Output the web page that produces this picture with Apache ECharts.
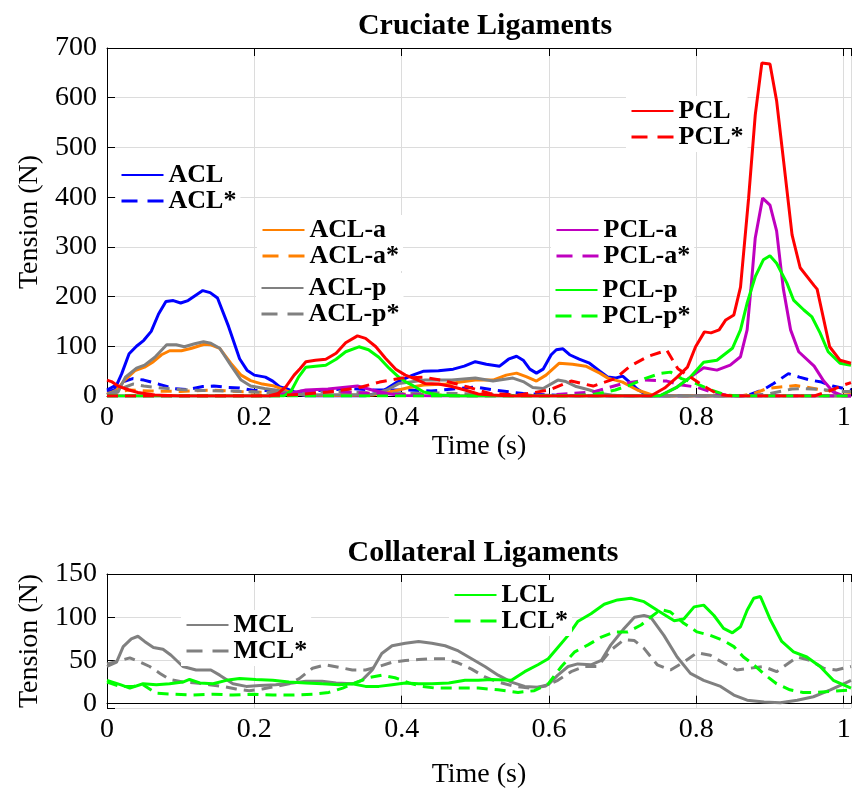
<!DOCTYPE html>
<html>
<head>
<meta charset="utf-8">
<title>Ligament tension</title>
<script src="https://cdn.jsdelivr.net/npm/echarts@6/dist/echarts.min.js"></script>
</head>
<body style="margin:0;padding:0;background:#fff">
<div id="chart" style="width:854px;height:793px"></div>
<script type="text/javascript">
// values: [time (s), tension (N)]
var acl = [[0,8],[0.01,12],[0.02,45],[0.03,85],[0.04,100],[0.05,112],[0.06,130],[0.07,165],[0.08,190],[0.09,192],[0.10,187],[0.11,192],[0.12,202],[0.13,212],[0.14,208],[0.15,197],[0.165,140],[0.18,75],[0.19,52],[0.20,42],[0.215,38],[0.225,30],[0.235,18],[0.245,14],[0.255,8],[0.27,0],[0.35,0],[0.365,5],[0.38,15],[0.395,29],[0.415,42],[0.43,50],[0.45,51],[0.47,54],[0.485,60],[0.50,69],[0.515,64],[0.533,60],[0.545,74],[0.556,80],[0.565,72],[0.574,54],[0.583,46],[0.592,54],[0.603,83],[0.61,93],[0.619,95],[0.628,83],[0.641,74],[0.655,66],[0.669,50],[0.68,38],[0.69,36],[0.70,40],[0.711,26],[0.72,14],[0.73,4],[0.74,0],[1.01,0]];
var aclStar = [[0,12],[0.02,28],[0.035,35],[0.05,32],[0.07,24],[0.09,15],[0.11,13],[0.13,19],[0.145,20],[0.165,17],[0.18,16],[0.20,11],[0.22,11],[0.235,12],[0.25,9],[0.27,10],[0.30,12],[0.33,15],[0.36,12],[0.39,12],[0.41,12],[0.44,10],[0.47,14],[0.50,18],[0.53,11],[0.565,5],[0.60,2],[0.64,0],[0.86,0],[0.875,4],[0.89,12],[0.905,25],[0.925,45],[0.94,38],[0.955,32],[0.97,28],[0.985,20],[1.01,12]];
var aclA = [[0,3],[0.013,12],[0.024,32],[0.038,51],[0.051,58],[0.063,69],[0.074,83],[0.085,91],[0.101,91],[0.115,96],[0.132,104],[0.141,103],[0.153,96],[0.168,66],[0.182,42],[0.195,31],[0.211,24],[0.227,20],[0.24,13],[0.25,6],[0.27,2],[0.30,1],[0.36,2],[0.39,10],[0.41,17],[0.43,22],[0.46,24],[0.50,32],[0.524,32],[0.542,42],[0.556,46],[0.569,39],[0.583,30],[0.596,42],[0.614,66],[0.632,64],[0.65,60],[0.669,46],[0.68,36],[0.70,28],[0.72,12],[0.74,2],[0.76,0],[1.01,0]];
var aclAStar = [[0,5],[0.03,12],[0.06,10],[0.10,9],[0.14,12],[0.18,9],[0.22,7],[0.26,5],[0.30,8],[0.34,6],[0.40,4],[0.45,2],[0.50,1],[0.60,0],[0.86,0],[0.878,5],[0.896,15],[0.914,18],[0.935,21],[0.95,18],[0.97,12],[1.00,8],[1.01,7]];
var aclP = [[0,2],[0.015,8],[0.025,38],[0.04,56],[0.051,62],[0.065,78],[0.081,103],[0.094,103],[0.105,99],[0.119,105],[0.131,109],[0.141,106],[0.153,96],[0.168,62],[0.182,32],[0.195,20],[0.214,15],[0.232,11],[0.25,5],[0.27,2],[0.36,3],[0.38,12],[0.396,25],[0.432,32],[0.468,32],[0.50,36],[0.524,30],[0.551,36],[0.565,29],[0.578,17],[0.592,15],[0.612,32],[0.623,29],[0.637,19],[0.655,12],[0.669,5],[0.685,2],[0.70,0],[1.01,0]];
var aclPStar = [[0,3],[0.02,15],[0.035,24],[0.05,20],[0.075,16],[0.10,13],[0.13,11],[0.17,10],[0.20,8],[0.24,6],[0.28,8],[0.32,9],[0.36,6],[0.40,5],[0.45,6],[0.50,4],[0.55,2],[0.60,1],[0.65,0],[0.87,0],[0.90,5],[0.93,14],[0.946,15],[0.97,13],[1.00,9],[1.01,9]];
var pcl = [[0,32],[0.006,29],[0.015,20],[0.03,12],[0.042,7],[0.065,2],[0.10,0],[0.22,0],[0.232,5],[0.243,19],[0.254,42],[0.262,55],[0.27,69],[0.283,72],[0.297,74],[0.311,86],[0.324,107],[0.34,121],[0.351,116],[0.365,99],[0.378,76],[0.392,54],[0.405,42],[0.419,34],[0.432,25],[0.45,24],[0.468,19],[0.486,12],[0.504,4],[0.522,2],[0.55,0],[0.738,0],[0.757,16],[0.774,38],[0.788,58],[0.799,99],[0.811,129],[0.82,127],[0.831,133],[0.84,153],[0.851,163],[0.86,219],[0.871,398],[0.88,565],[0.889,670],[0.90,668],[0.909,594],[0.918,479],[0.93,324],[0.941,258],[0.96,222],[0.964,215],[0.981,99],[0.995,72],[1.01,66]];
var pclStar = [[0,0],[0.20,0],[0.26,3],[0.30,8],[0.34,16],[0.37,28],[0.40,36],[0.43,38],[0.46,30],[0.49,18],[0.52,5],[0.56,2],[0.60,12],[0.63,30],[0.66,20],[0.69,35],[0.71,60],[0.735,80],[0.76,92],[0.775,55],[0.79,40],[0.81,20],[0.83,3],[0.85,0],[0.96,0],[0.98,10],[1.00,22],[1.01,27]];
var pclA = [[0,0],[0.22,0],[0.25,6],[0.27,12],[0.30,14],[0.34,20],[0.36,12],[0.38,5],[0.40,1],[0.45,0],[0.75,0],[0.774,18],[0.792,38],[0.81,57],[0.828,52],[0.846,62],[0.86,79],[0.869,133],[0.875,230],[0.88,318],[0.89,398],[0.90,384],[0.909,332],[0.918,217],[0.928,133],[0.939,89],[0.96,60],[0.973,30],[0.986,8],[1.00,0],[1.01,0]];
var pclAStar = [[0,0],[0.24,0],[0.27,8],[0.30,10],[0.35,6],[0.40,3],[0.45,1],[0.50,0],[0.60,2],[0.66,8],[0.70,25],[0.73,32],[0.76,30],[0.78,22],[0.80,18],[0.82,8],[0.84,2],[0.86,0],[1.01,0]];
var pclP = [[0,0],[0.24,0],[0.25,10],[0.26,38],[0.27,58],[0.283,60],[0.297,62],[0.311,74],[0.324,89],[0.342,99],[0.355,93],[0.369,78],[0.383,56],[0.396,38],[0.405,29],[0.414,22],[0.43,8],[0.45,2],[0.48,0],[0.75,0],[0.774,18],[0.792,38],[0.81,68],[0.828,72],[0.849,96],[0.86,133],[0.869,187],[0.88,240],[0.891,274],[0.90,282],[0.909,267],[0.923,227],[0.932,193],[0.946,173],[0.957,159],[0.968,127],[0.979,89],[0.995,66],[1.01,62]];
var pclPStar = [[0,0],[0.62,0],[0.66,3],[0.69,12],[0.71,22],[0.73,35],[0.75,45],[0.765,48],[0.78,35],[0.80,25],[0.82,12],[0.84,2],[0.86,0],[1.01,0]];

var mcl = [[0,43],[0.013,48],[0.022,66],[0.033,75],[0.042,78],[0.051,72],[0.063,65],[0.076,63],[0.087,56],[0.103,43],[0.121,39],[0.141,39],[0.153,33],[0.171,23],[0.189,20],[0.207,21],[0.229,22],[0.252,24],[0.27,26],[0.292,26],[0.311,24],[0.333,23],[0.346,27],[0.36,39],[0.373,58],[0.387,67],[0.405,70],[0.423,72],[0.441,70],[0.459,67],[0.477,61],[0.495,52],[0.513,43],[0.531,33],[0.549,25],[0.567,20],[0.585,19],[0.599,22],[0.612,33],[0.626,43],[0.639,46],[0.657,45],[0.671,50],[0.684,68],[0.702,87],[0.716,100],[0.729,102],[0.738,100],[0.756,79],[0.774,54],[0.792,35],[0.81,27],[0.833,20],[0.851,10],[0.869,4],[0.892,2],[0.914,1],[0.937,4],[0.959,8],[0.982,16],[1.00,23],[1.01,27]];
var mclStar = [[0,46],[0.018,50],[0.031,53],[0.045,48],[0.058,43],[0.072,35],[0.085,28],[0.103,25],[0.121,24],[0.139,22],[0.157,20],[0.175,17],[0.193,15],[0.211,17],[0.229,20],[0.247,23],[0.261,29],[0.279,41],[0.297,45],[0.315,42],[0.333,39],[0.351,39],[0.369,43],[0.387,48],[0.405,50],[0.423,51],[0.441,52],[0.459,52],[0.477,47],[0.495,40],[0.513,31],[0.531,25],[0.554,20],[0.576,18],[0.594,20],[0.612,27],[0.63,37],[0.648,43],[0.666,43],[0.684,62],[0.702,74],[0.716,73],[0.729,64],[0.747,45],[0.765,39],[0.783,48],[0.801,59],[0.819,56],[0.837,47],[0.855,39],[0.873,41],[0.891,43],[0.909,37],[0.937,54],[0.955,50],[0.973,41],[0.99,39],[1.01,43]];
var lcl = [[0,27],[0.018,22],[0.031,18],[0.049,23],[0.067,22],[0.085,23],[0.103,25],[0.112,28],[0.126,24],[0.144,23],[0.162,27],[0.18,29],[0.202,28],[0.225,27],[0.247,25],[0.27,24],[0.292,23],[0.315,22],[0.333,23],[0.351,20],[0.369,20],[0.387,22],[0.405,24],[0.423,23],[0.441,23],[0.464,24],[0.486,27],[0.504,27],[0.522,28],[0.549,27],[0.567,37],[0.585,45],[0.599,52],[0.612,65],[0.626,79],[0.639,95],[0.657,104],[0.675,115],[0.693,120],[0.711,122],[0.729,118],[0.747,108],[0.77,96],[0.783,98],[0.797,112],[0.81,114],[0.824,102],[0.837,87],[0.849,82],[0.86,89],[0.869,108],[0.878,122],[0.887,124],[0.90,98],[0.916,72],[0.932,60],[0.95,54],[0.968,43],[0.986,27],[1.01,18]];
var lclStar = [[0,25],[0.018,20],[0.036,20],[0.049,22],[0.067,12],[0.09,11],[0.117,10],[0.144,11],[0.171,10],[0.198,11],[0.225,10],[0.252,10],[0.279,11],[0.301,13],[0.32,18],[0.337,24],[0.355,30],[0.373,33],[0.391,30],[0.41,24],[0.428,20],[0.446,18],[0.468,18],[0.504,18],[0.531,16],[0.558,13],[0.58,15],[0.599,23],[0.617,43],[0.635,60],[0.653,68],[0.671,77],[0.689,83],[0.707,83],[0.725,91],[0.738,100],[0.752,109],[0.765,106],[0.783,93],[0.801,83],[0.819,79],[0.837,73],[0.851,66],[0.864,54],[0.878,45],[0.891,35],[0.909,23],[0.927,16],[0.945,13],[0.963,13],[0.981,14],[1.01,16]];

var FONT = 'Liberation Serif';
var BLUE = '#0000ff', ORANGE = '#ff8000', GRAY = '#808080', RED = '#ff0000', MAGENTA = '#bf00bf', GREEN = '#00ff00';
var DASH = [11, 7];

var topSeries = [
  ['ACL', acl, BLUE], ['ACL*', aclStar, BLUE],
  ['ACL-a', aclA, ORANGE], ['ACL-a*', aclAStar, ORANGE],
  ['ACL-p', aclP, GRAY], ['ACL-p*', aclPStar, GRAY],
  ['PCL-a', pclA, MAGENTA], ['PCL-a*', pclAStar, MAGENTA],
  ['PCL-p', pclP, GREEN], ['PCL-p*', pclPStar, GREEN],
  ['PCL', pcl, RED], ['PCL*', pclStar, RED]
];
var bottomSeries = [
  ['MCL', mcl, GRAY], ['MCL*', mclStar, GRAY],
  ['LCL', lcl, GREEN], ['LCL*', lclStar, GREEN]
];

function makeSeries(s, gi) {
  var dashed = s[0].slice(-1) === '*';
  return {
    name: s[0], type: 'line', data: s[1],
    xAxisIndex: gi * 2, yAxisIndex: gi,
    symbol: 'none', showSymbol: false, silent: true,
    color: s[2],
    lineStyle: { color: s[2], width: 3, type: dashed ? DASH : 'solid' }
  };
}

function makeLegend(names, left, top) {
  return {
    left: left, top: top, orient: 'vertical',
    backgroundColor: '#ffffff', padding: [2, 4, 2, 4],
    itemWidth: 42, itemHeight: 14, itemGap: 0,
    selectedMode: false,
    // hide the marker circle, keep only the line
    itemStyle: { opacity: 0, borderWidth: 0 },
    textStyle: { fontFamily: FONT, fontSize: 26, fontWeight: 'bold', color: '#000', lineHeight: 25 },
    data: names.map(function (n) {
      var d = { name: n };
      if (n.slice(-1) === '*') d.lineStyle = { type: [16, 10], width: 3 };
      return d;
    })
  };
}

function xLabel(v) {
  return Math.abs(v * 5 - Math.round(v * 5)) < 1e-6 ? String(+v.toFixed(1)) : '';
}

function xAxes(gi, nameGap) {
  var common = {
    type: 'value', gridIndex: gi, min: 0, max: 1.01, interval: 0.2,
    axisLine: { show: true, lineStyle: { color: '#000', width: 1 } },
    axisTick: { show: true, inside: true, length: 8, lineStyle: { color: '#000' } }
  };
  var bottom = Object.assign({}, common, {
    position: 'bottom',
    name: 'Time (s)', nameLocation: 'middle', nameGap: nameGap,
    nameTextStyle: { fontFamily: FONT, fontSize: 28, color: '#000' },
    axisLabel: { fontFamily: FONT, fontSize: 28, color: '#000', margin: 8, formatter: xLabel },
    splitLine: { show: true, lineStyle: { color: '#dcdcdc', width: 1 } }
  });
  var top = Object.assign({}, common, {
    position: 'top', axisLabel: { show: false }, splitLine: { show: false }
  });
  return [bottom, top];
}

function yAxis(gi, min, max, extra) {
  return Object.assign({
    type: 'value', gridIndex: gi, min: min, max: max,
    name: 'Tension (N)', nameLocation: 'middle', nameGap: 60,
    nameTextStyle: { fontFamily: FONT, fontSize: 28, color: '#000' },
    axisLine: { show: true, lineStyle: { color: '#000', width: 1 } },
    axisTick: { show: true, inside: true, length: 8, lineStyle: { color: '#000' } },
    axisLabel: { fontFamily: FONT, fontSize: 28, color: '#000', margin: 10 },
    splitLine: { show: true, lineStyle: { color: '#dcdcdc', width: 1 } }
  }, extra);
}

var chart = echarts.init(document.getElementById('chart'));
chart.setOption({
  animation: false,
  backgroundColor: '#ffffff',
  title: [
    { text: 'Cruciate Ligaments', left: 480, top: 6, textAlign: 'center',
      textStyle: { fontFamily: FONT, fontSize: 30, fontWeight: 'bold', color: '#000' } },
    { text: 'Collateral Ligaments', left: 478, top: 533, textAlign: 'center',
      textStyle: { fontFamily: FONT, fontSize: 30, fontWeight: 'bold', color: '#000' } }
  ],
  grid: [
    { left: 107, top: 48, width: 747, height: 348 },
    { left: 107, top: 574, width: 747, height: 134 }
  ],
  xAxis: xAxes(0, 35).concat(xAxes(1, 53)),
  yAxis: [
    yAxis(0, 0, 700, { interval: 100 }),
    yAxis(1, -5, 150, { splitNumber: 3, axisLabel: { fontFamily: FONT, fontSize: 28, color: '#000', margin: 10,
      formatter: function (v) { return v < 0 ? '' : String(v); } } })
  ],
  legend: [
    makeLegend(['ACL', 'ACL*'], 116, 160),
    makeLegend(['ACL-a', 'ACL-a*'], 257, 215),
    makeLegend(['ACL-p', 'ACL-p*'], 256, 273),
    makeLegend(['PCL', 'PCL*'], 626, 96),
    makeLegend(['PCL-a', 'PCL-a*'], 551, 215),
    makeLegend(['PCL-p', 'PCL-p*'], 550, 275),
    makeLegend(['MCL', 'MCL*'], 181, 610),
    makeLegend(['LCL', 'LCL*'], 449, 580)
  ],
  series: topSeries.map(function (s) { return makeSeries(s, 0); })
    .concat(bottomSeries.map(function (s) { return makeSeries(s, 1); }))
});
</script>
</body>
</html>
